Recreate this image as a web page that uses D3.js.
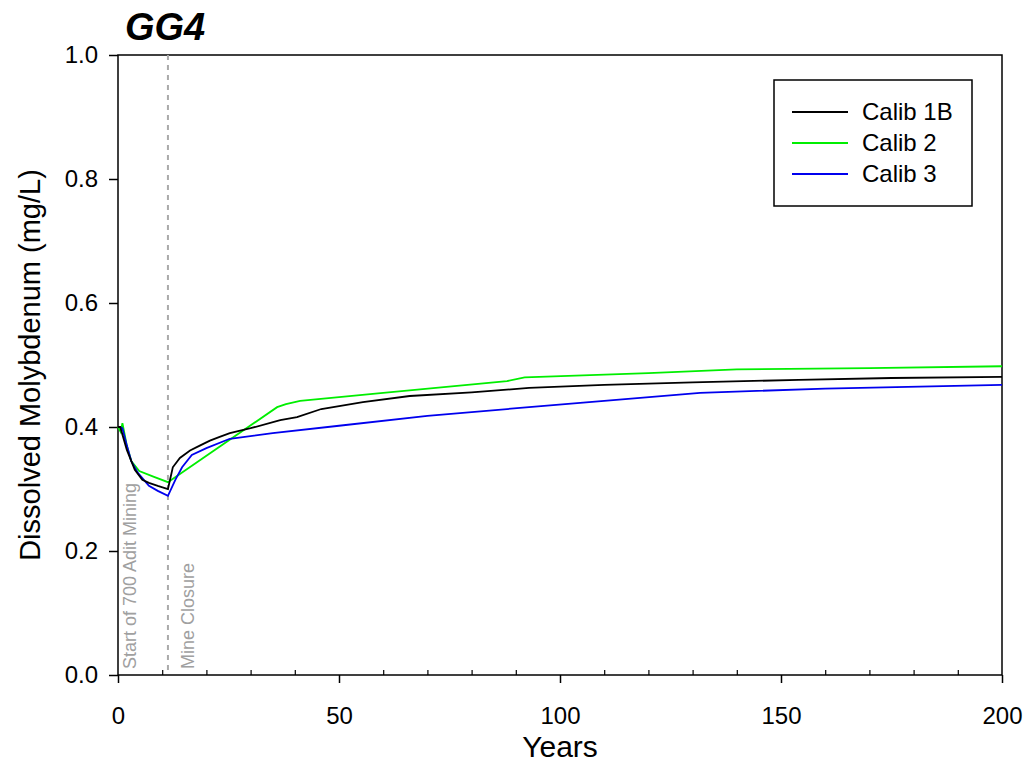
<!DOCTYPE html>
<html>
<head>
<meta charset="utf-8">
<script src="https://cdn.jsdelivr.net/npm/d3@7"></script>
<style>
  body { margin: 0; background: #fff; }
  svg text { font-family: "Liberation Sans", Arial, sans-serif; }
</style>
</head>
<body>
<svg id="chart" width="1030" height="781"></svg>
<script>
// series data (years, dissolved Mo mg/L)
const years1B  = [0, 0.5, 2, 3.8, 5.5, 7, 9, 11.3, 12.4, 14, 16.3, 18.5, 20.8, 23, 25.3, 30, 36.7, 40.5, 46, 55.4, 66, 80, 93, 110, 130, 154, 175, 200];
const calib1B  = [0.40, 0.40, 0.363, 0.331, 0.315, 0.310, 0.305, 0.300, 0.335, 0.350, 0.362, 0.370, 0.378, 0.384, 0.390, 0.398, 0.411, 0.416, 0.429, 0.440, 0.450, 0.456, 0.463, 0.468, 0.472, 0.476, 0.479, 0.481];
const years2   = [0, 0.6, 1.0, 2, 3, 4.8, 8, 11.3, 36, 38, 41.2, 60, 88, 92, 120, 140, 170, 200];
const calib2   = [0.40, 0.392, 0.406, 0.37, 0.345, 0.329, 0.320, 0.311, 0.432, 0.437, 0.442, 0.455, 0.474, 0.480, 0.487, 0.493, 0.495, 0.498];
const years3   = [0, 0.5, 1, 2, 3, 4.5, 7, 9, 11.3, 13, 14.5, 16.7, 20, 25.3, 35, 50, 70, 93, 110, 131.7, 160, 200];
const calib3   = [0.40, 0.40, 0.398, 0.37, 0.345, 0.326, 0.305, 0.297, 0.289, 0.315, 0.335, 0.355, 0.366, 0.381, 0.390, 0.402, 0.418, 0.432, 0.442, 0.455, 0.462, 0.468];

const seriesNames  = ['Calib 1B', 'Calib 2', 'Calib 3'];
const seriesColors = ['#000000', '#00ee00', '#0000ee'];

const xTicks = [0, 50, 100, 150, 200];
const yTicks = [0.0, 0.2, 0.4, 0.6, 0.8, 1.0];
const mineClosure = 11.3;

// layout
const m = { left: 118, right: 1002, top: 55, bottom: 675 };
const svg = d3.select('#chart');

const x = d3.scaleLinear().domain([0, 200]).range([m.left, m.right]);
const y = d3.scaleLinear().domain([0, 1]).range([m.bottom, m.top]);

// frame
svg.append('rect')
  .attr('x', m.left).attr('y', m.top)
  .attr('width', m.right - m.left).attr('height', m.bottom - m.top)
  .attr('fill', 'none').attr('stroke', '#000').attr('stroke-width', 1.5);

// x axis: major out, minor in
const xAxis = svg.append('g').attr('transform', `translate(0,${m.bottom})`)
  .call(d3.axisBottom(x).tickValues(xTicks).tickSize(8).tickPadding(24).tickFormat(d3.format('d')));
xAxis.select('.domain').remove();
xAxis.selectAll('line').attr('stroke-width', 1.5);
xAxis.selectAll('text').attr('font-size', 24).attr('fill', '#000');

svg.append('g').attr('transform', `translate(0,${m.bottom})`)
  .call(d3.axisTop(x).tickValues(d3.range(10, 200, 10).filter(v => v % 50 !== 0)).tickSize(5).tickFormat(''))
  .call(g => g.select('.domain').remove())
  .selectAll('line').attr('stroke-width', 1.2);

// y axis
const yAxis = svg.append('g').attr('transform', `translate(${m.left},0)`)
  .call(d3.axisLeft(y).tickValues(yTicks).tickSize(9).tickPadding(11).tickFormat(d3.format('.1f')));
yAxis.select('.domain').remove();
yAxis.selectAll('line').attr('stroke-width', 1.5);
yAxis.selectAll('text').attr('font-size', 24).attr('fill', '#000');

// mine closure marker
svg.append('line')
  .attr('x1', x(mineClosure)).attr('x2', x(mineClosure))
  .attr('y1', m.top).attr('y2', m.bottom)
  .attr('stroke', '#aaa').attr('stroke-width', 2).attr('stroke-dasharray', '5,5');

svg.append('text')
  .attr('transform', `translate(${x(0) + 18},${m.bottom - 6}) rotate(-90)`)
  .attr('font-size', 18).attr('fill', '#a0a0a0')
  .text('Start of 700 Adit Mining');

svg.append('text')
  .attr('transform', `translate(${x(mineClosure) + 26},${m.bottom - 6}) rotate(-90)`)
  .attr('font-size', 18).attr('fill', '#a0a0a0')
  .text('Mine Closure');

// lines
const line = d3.line().x(d => x(d[0])).y(d => y(d[1]));
const series = [
  d3.zip(years1B, calib1B),
  d3.zip(years2, calib2),
  d3.zip(years3, calib3)
];
// draw green, then blue, then black on top
[1, 2, 0].forEach(i => {
  svg.append('path')
    .datum(series[i])
    .attr('d', line)
    .attr('fill', 'none')
    .attr('stroke', seriesColors[i])
    .attr('stroke-width', 1.8);
});

// legend
const lg = svg.append('g');
lg.append('rect')
  .attr('x', 774).attr('y', 80).attr('width', 198).attr('height', 126)
  .attr('fill', '#fff').attr('stroke', '#000').attr('stroke-width', 1.5);
seriesNames.forEach((name, i) => {
  const yy = 112 + i * 31;
  lg.append('line').attr('x1', 792).attr('x2', 848).attr('y1', yy).attr('y2', yy)
    .attr('stroke', seriesColors[i]).attr('stroke-width', 1.8);
  lg.append('text').attr('x', 862).attr('y', yy + 8)
    .attr('font-size', 24).text(name);
});

// axis titles
svg.append('text')
  .attr('x', (m.left + m.right) / 2).attr('y', 757)
  .attr('text-anchor', 'middle').attr('font-size', 30)
  .text('Years');

svg.append('text')
  .attr('transform', `translate(40,${(m.top + m.bottom) / 2}) rotate(-90)`)
  .attr('text-anchor', 'middle').attr('font-size', 29)
  .text('Dissolved Molybdenum (mg/L)');

// title
svg.append('text')
  .attr('x', 125).attr('y', 40)
  .attr('font-size', 38).attr('font-weight', 'bold').attr('font-style', 'italic')
  .text('GG4');
</script>
</body>
</html>
